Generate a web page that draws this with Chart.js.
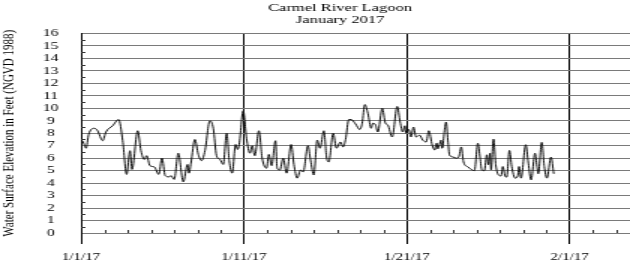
<!DOCTYPE html>
<html lang="en">
<head>
<meta charset="UTF-8">
<title>Carmel River Lagoon - January 2017</title>
<script src="https://cdn.jsdelivr.net/npm/chart.js"></script>
<style>
  html, body { margin: 0; padding: 0; background: #fff; }
</style>
</head>
<body>
<!-- the source picture is stretched sideways, so the canvas is drawn narrow and widened -->
<canvas id="lagoonChart" width="420" height="264" style="display:block;width:630px;height:264px"></canvas>
<script>
// x in axis units: 1/1, 1/11, 1/21 and 2/1 sit 10 units apart on this plot
const days = [
  0, 0.06, 0.2, 0.31, 0.47, 0.82, 1.02, 1.33, 1.53, 1.94, 2.31, 2.56, 2.8, 3.01, 3.13, 3.48,
  3.68, 3.89, 4.03, 4.23, 4.5, 4.77, 4.97, 5.17, 5.42, 5.52, 5.72,
  5.97, 6.28, 6.54, 6.63, 6.75, 6.99, 7.2, 7.4, 7.61, 7.91, 8.12, 8.32, 8.53, 8.73, 8.94,
  9.1, 9.28, 9.49, 9.61, 9.71, 9.96, 10.16, 10.37, 10.51, 10.67, 10.92, 11.12, 11.39, 11.53, 11.7, 11.94,
  12.04, 12.21, 12.41, 12.62, 12.9, 13.07, 13.27, 13.48, 13.64, 13.93, 14.09, 14.29, 14.5, 14.67,
  14.91, 15.07, 15.21, 15.48, 15.68, 15.93, 16.09, 16.24, 16.44, 16.58, 16.85, 17.11, 17.26, 17.42,
  17.61, 17.81, 17.91, 18.08, 18.22, 18.49, 18.69, 18.83, 19.1, 19.41, 19.59, 19.75, 19.88, 19.96,
  20.12, 20.26, 20.41, 20.57, 20.78, 20.98, 21.19, 21.35, 21.56, 21.72, 21.78, 21.84, 21.9, 21.96,
  22.05, 22.1, 22.16, 22.21, 22.26, 22.31, 22.41, 22.52, 22.62, 22.83, 23.03, 23.19, 23.34, 23.48, 23.75,
  23.99, 24.15, 24.36, 24.5, 24.6, 24.76, 24.91, 25.01, 25.11, 25.17, 25.32, 25.46, 25.62, 25.79,
  25.89, 26.03, 26.13, 26.3, 26.44, 26.65, 26.81, 26.89, 27.01, 27.3, 27.46, 27.63, 27.87, 27.99,
  28.07, 28.28, 28.44, 28.6, 28.85, 29.02
];
const level = [
  6.2, 7.4, 7.1, 6.8, 7.9, 8.4, 8.2, 7.4, 8.1, 8.6, 9.1, 7.4, 4.7, 6.6, 5.1, 8.2,
  6.6, 5.9, 6.2, 5.4, 5.3, 4.7, 6.0, 4.6, 4.5, 4.6, 4.3,
  6.4, 4.1, 5.5, 4.8, 5.6, 7.5, 6.3, 5.8, 6.6, 9.0, 8.4, 6.2, 5.9, 5.5, 8.0,
  5.8, 4.8, 7.1, 6.7, 7.1, 9.8, 7.6, 6.4, 7.0, 6.2, 8.2, 6.0, 5.2, 6.3, 5.4, 7.4,
  5.2, 5.05, 6.0, 4.8, 7.1, 5.5, 4.4, 5.05, 4.9, 7.0, 5.85, 4.65, 7.45, 6.8,
  8.2, 6.1, 5.7, 8.0, 6.8, 7.3, 6.9, 7.5, 9.1, 9.1, 8.75, 8.3, 8.8, 10.3,
  9.6, 8.4, 8.8, 8.67, 8.1, 10.0, 8.8, 8.67, 7.7, 10.15, 8.9, 8.1, 8.6, 8.0,
  8.3, 7.7, 8.5, 7.7, 7.85, 7.45, 7.3, 8.2, 7.05, 6.65, 7.1, 7.2, 6.75, 6.9,
  7.3, 7.45, 6.8, 6.9, 7.6, 8.2, 8.9, 7.45, 6.25, 6.1, 6.0, 6.1, 6.9, 5.7, 5.3,
  5.07, 5.0, 7.2, 6.0, 5.07, 5.0, 6.27, 5.47, 6.4, 5.07, 7.53, 5.47, 4.67, 4.58,
  5.33, 4.58, 4.48, 6.62, 5.33, 4.4, 4.58, 5.33, 4.4, 7.08, 5.6, 4.26, 6.4, 5.33,
  4.75, 7.27, 5.33, 4.4, 6.09, 4.75
];
const tickDays = [0, 10, 20, 30];
const tickLabels = ['1/1/17', '1/11/17', '1/21/17', '2/1/17'];
const levelTicks = [0, 1, 2, 3, 4, 5, 6, 7, 8, 9, 10, 11, 12, 13, 14, 15, 16];
const titleLines = ['Carmel River Lagoon', 'January 2017'];
const yTitle = 'Water Surface Elevation in Feet (NGVD 1988)';

Chart.defaults.font.family = '"Liberation Serif", "Times New Roman", serif';
Chart.defaults.color = '#000';

// small inside tick marks between the labelled ones
const minorTicks = {
  id: 'minorTicks',
  beforeDatasetsDraw(chart) {
    const { ctx, chartArea, scales } = chart;
    ctx.save();
    ctx.strokeStyle = '#333';
    ctx.lineWidth = 1;
    ctx.beginPath();
    for (let k = 1; k * 10 / 7 < scales.x.max; k++) {
      if (k % 7 === 0) continue;
      const px = Math.round(scales.x.getPixelForValue(k * 10 / 7)) + 0.5;
      ctx.moveTo(px, chartArea.bottom);
      ctx.lineTo(px, chartArea.bottom - 3);
    }
    for (let v = 0.5; v < 16; v++) {
      const py = Math.round(scales.y.getPixelForValue(v)) + 0.5;
      ctx.moveTo(chartArea.left, py);
      ctx.lineTo(chartArea.left + 3, py);
    }
    ctx.stroke();
    ctx.restore();
  }
};

// two-line title, centred a little left of the plot middle as in the source
const twoLineTitle = {
  id: 'twoLineTitle',
  afterDraw(chart) {
    const ctx = chart.ctx;
    ctx.save();
    ctx.fillStyle = '#000';
    ctx.font = '11px "Liberation Serif", serif';
    ctx.textAlign = 'center';
    ctx.textBaseline = 'alphabetic';
    ctx.fillText(titleLines[0], 226.7, 10.5);
    ctx.fillText(titleLines[1], 226.7, 23.3);
    ctx.restore();
  }
};

const ctx = document.getElementById('lagoonChart').getContext('2d');
new Chart(ctx, {
  type: 'line',
  data: {
    datasets: [{
      label: 'Water level',
      data: days.map((d, i) => ({ x: d, y: level[i] })),
      borderColor: '#111',
      borderWidth: 1,
      pointRadius: 0,
      cubicInterpolationMode: 'monotone',
      fill: false
    }]
  },
  options: {
    responsive: false,
    devicePixelRatio: 1,
    animation: false,
    layout: { padding: { top: 33.5, right: 0, bottom: 0, left: 0 } },
    plugins: {
      legend: { display: false },
      title: { display: false },
      tooltip: { enabled: false }
    },
    scales: {
      x: {
        type: 'linear',
        min: 0,
        max: 33.7,
        afterBuildTicks: (scale) => { scale.ticks = tickDays.map(v => ({ value: v })); },
        afterFit: (scale) => { scale.height = 31; },
        ticks: {
          font: { size: 10 },
          padding: 7,
          maxRotation: 0,
          autoSkip: false,
          callback: (v) => tickLabels[tickDays.indexOf(v)]
        },
        grid: { color: '#000', lineWidth: 1, tickLength: 11, tickColor: '#000' },
        border: { color: '#7a7a7a', width: 1 }
      },
      y: {
        min: 0,
        max: 16,
        afterBuildTicks: (scale) => { scale.ticks = levelTicks.map(v => ({ value: v })); },
        afterFit: (scale) => { scale.width = 54; },
        ticks: { font: { size: 10.5 }, padding: 15, crossAlign: 'center', autoSkip: false },
        grid: { color: '#7a7a7a', lineWidth: 1, drawTicks: false },
        border: { color: '#000', width: 1 },
        title: {
          display: true,
          text: yTitle,
          font: { size: 11 },
          padding: 0
        }
      }
    }
  },
  plugins: [minorTicks, twoLineTitle]
});
</script>
</body>
</html>
